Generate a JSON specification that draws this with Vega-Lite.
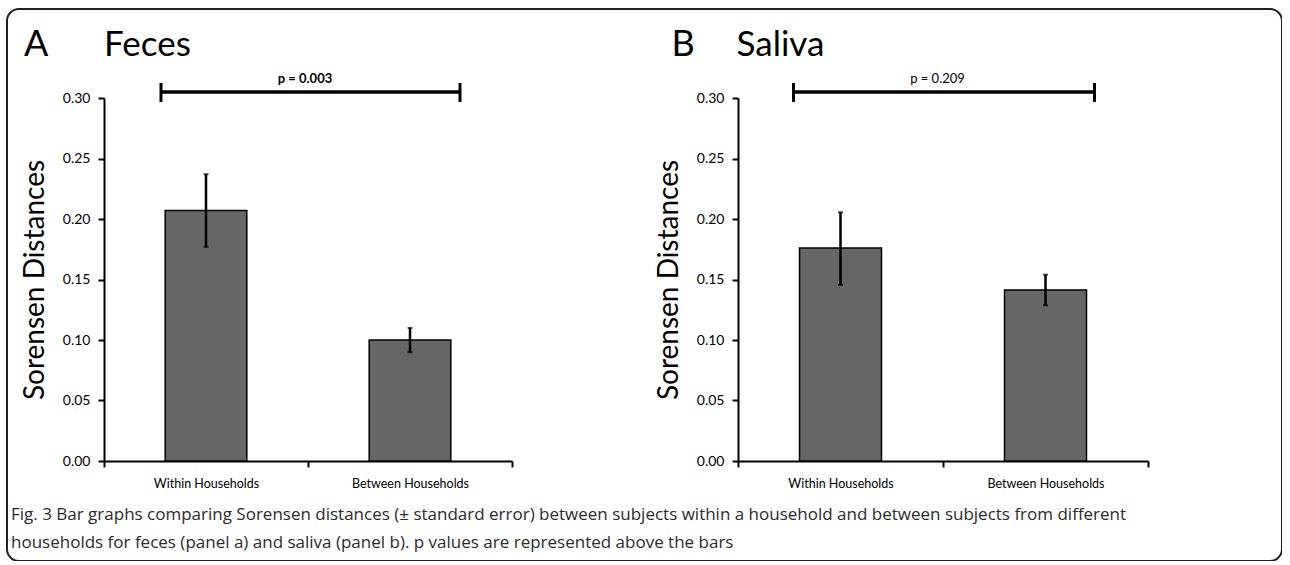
{
  "$schema": "https://vega.github.io/schema/vega-lite/v6.json",
  "background": "white",
  "padding": {"left": 7, "top": 9, "right": 0, "bottom": 0},
  "width": 1275,
  "height": 552,
  "config": {"font": "Lato"},
  "view": {"stroke": "#231f20", "strokeWidth": 2, "cornerRadius": 12, "fill": null},
  "title": {
    "text": [
      "Fig. 3 Bar graphs comparing Sorensen distances (± standard error) between subjects within a household and between subjects from different",
      "households for feces (panel a) and saliva (panel b). p values are represented above the bars"
    ],
    "orient": "bottom",
    "anchor": "start",
    "frame": "group",
    "offset": -54,
    "dx": 4,
    "font": "Open Sans",
    "fontSize": 17,
    "fontWeight": "normal",
    "color": "#2b2b2b",
    "lineHeight": 28
  },
  "datasets": {
    "feces": [
      {"group": "Within Households", "mean": 0.207, "lo": 0.177, "hi": 0.237},
      {"group": "Between Households", "mean": 0.100, "lo": 0.090, "hi": 0.110}
    ],
    "saliva": [
      {"group": "Within Households", "mean": 0.176, "lo": 0.1455, "hi": 0.2055},
      {"group": "Between Households", "mean": 0.1413, "lo": 0.1287, "hi": 0.154}
    ],
    "feces_p": [
      {"from": "Within Households", "to": "Between Households", "y": 0.305, "cap_lo": 0.2967, "cap_hi": 0.3124, "label": "p = 0.003", "letter": "A", "name": "Feces"}
    ],
    "saliva_p": [
      {"from": "Within Households", "to": "Between Households", "y": 0.305, "cap_lo": 0.2967, "cap_hi": 0.3124, "label": "p = 0.209", "letter": "B", "name": "Saliva"}
    ]
  },
  "resolve": {"scale": {"x": "independent", "y": "independent"}, "axis": {"x": "independent", "y": "independent"}},
  "layer": [
    {
      "layer": [
        {
          "data": {"name": "feces"},
          "mark": {"type": "bar", "width": {"band": 0.4}, "fill": "#666666", "stroke": "black", "strokeWidth": 1.5},
          "encoding": {
            "x": {"field": "group", "type": "nominal", "title": null,
              "scale": {"domain": ["Within Households", "Between Households"], "paddingInner": 0, "paddingOuter": 0, "range": [97, 505]},
              "axis": {"orient": "bottom", "offset": -100, "labelAngle": 0, "tickBand": "extent", "domainColor": "black", "domainWidth": 2, "tickColor": "black", "tickWidth": 2, "tickSize": 6, "labelFontSize": 12.5, "labelColor": "black", "labelPadding": 10, "labelFont": "Lato"}},
            "y": {"field": "mean", "type": "quantitative", "title": "Sorensen Distances",
              "scale": {"domain": [0, 0.3], "range": [452, 89]},
              "axis": {"orient": "left", "offset": -97, "values": [0, 0.05, 0.1, 0.15, 0.2, 0.25, 0.3], "format": ".2f", "grid": false, "domainColor": "black", "domainWidth": 2, "tickColor": "black", "tickWidth": 2, "tickSize": 6, "labelFontSize": 14, "labelColor": "black", "labelPadding": 8, "labelFont": "Lato", "titleFont": "Lato", "titleFontSize": 28, "titleFontWeight": "normal", "titleColor": "black", "titlePadding": 13}}
          }
        },
        {
          "data": {"name": "feces"},
          "mark": {"type": "errorbar", "ticks": {"size": 5, "thickness": 2, "color": "black"}, "rule": {"strokeWidth": 2.5, "color": "black"}},
          "encoding": {
            "x": {"field": "group", "type": "nominal", "title": null},
            "y": {"field": "lo", "type": "quantitative", "title": "Sorensen Distances"},
            "y2": {"field": "hi"}
          }
        },
        {
          "data": {"name": "feces_p"},
          "mark": {"type": "rule", "strokeWidth": 3.5, "color": "black", "xOffset": -45, "x2Offset": 50},
          "encoding": {
            "x": {"field": "from", "type": "nominal", "title": null},
            "x2": {"field": "to"},
            "y": {"field": "y", "type": "quantitative", "title": "Sorensen Distances"}
          }
        },
        {
          "data": {"name": "feces_p"},
          "mark": {"type": "rule", "strokeWidth": 3, "color": "black", "xOffset": -45},
          "encoding": {
            "x": {"field": "from", "type": "nominal", "title": null},
            "y": {"field": "cap_lo", "type": "quantitative", "title": "Sorensen Distances"},
            "y2": {"field": "cap_hi"}
          }
        },
        {
          "data": {"name": "feces_p"},
          "mark": {"type": "rule", "strokeWidth": 3, "color": "black", "xOffset": 50},
          "encoding": {
            "x": {"field": "to", "type": "nominal", "title": null},
            "y": {"field": "cap_lo", "type": "quantitative", "title": "Sorensen Distances"},
            "y2": {"field": "cap_hi"}
          }
        },
        {
          "data": {"name": "feces_p"},
          "mark": {"type": "text", "fontWeight": "bold", "fontSize": 13, "font": "Lato", "color": "black", "xOffset": 99, "dy": -13},
          "encoding": {
            "x": {"field": "from", "type": "nominal", "title": null},
            "y": {"field": "y", "type": "quantitative", "title": "Sorensen Distances"},
            "text": {"field": "label"}
          }
        },
        {
          "data": {"name": "feces_p"},
          "mark": {"type": "text", "fontSize": 36, "font": "Lato", "color": "black", "align": "left", "baseline": "alphabetic", "xOffset": -182, "dy": -42},
          "encoding": {
            "x": {"field": "from", "type": "nominal", "title": null},
            "y": {"datum": 0.3, "type": "quantitative", "title": "Sorensen Distances"},
            "text": {"field": "letter"}
          }
        },
        {
          "data": {"name": "feces_p"},
          "mark": {"type": "text", "fontSize": 35, "font": "Lato", "color": "black", "align": "left", "baseline": "alphabetic", "xOffset": -102, "dy": -42},
          "encoding": {
            "x": {"field": "from", "type": "nominal", "title": null},
            "y": {"datum": 0.3, "type": "quantitative", "title": "Sorensen Distances"},
            "text": {"field": "name"}
          }
        }
      ]
    },
    {
      "layer": [
        {
          "data": {"name": "saliva"},
          "mark": {"type": "bar", "width": {"band": 0.4}, "fill": "#666666", "stroke": "black", "strokeWidth": 1.5},
          "encoding": {
            "x": {"field": "group", "type": "nominal", "title": null,
              "scale": {"domain": ["Within Households", "Between Households"], "paddingInner": 0, "paddingOuter": 0, "range": [731, 1141]},
              "axis": {"orient": "bottom", "offset": -100, "labelAngle": 0, "tickBand": "extent", "domainColor": "black", "domainWidth": 2, "tickColor": "black", "tickWidth": 2, "tickSize": 6, "labelFontSize": 12.5, "labelColor": "black", "labelPadding": 10, "labelFont": "Lato"}},
            "y": {"field": "mean", "type": "quantitative", "title": "Sorensen Distances",
              "scale": {"domain": [0, 0.3], "range": [452, 89]},
              "axis": {"orient": "left", "offset": -731, "values": [0, 0.05, 0.1, 0.15, 0.2, 0.25, 0.3], "format": ".2f", "grid": false, "domainColor": "black", "domainWidth": 2, "tickColor": "black", "tickWidth": 2, "tickSize": 6, "labelFontSize": 14, "labelColor": "black", "labelPadding": 8, "labelFont": "Lato", "titleFont": "Lato", "titleFontSize": 28, "titleFontWeight": "normal", "titleColor": "black", "titlePadding": 13}}
          }
        },
        {
          "data": {"name": "saliva"},
          "mark": {"type": "errorbar", "ticks": {"size": 5, "thickness": 2, "color": "black"}, "rule": {"strokeWidth": 2.5, "color": "black"}},
          "encoding": {
            "x": {"field": "group", "type": "nominal", "title": null},
            "y": {"field": "lo", "type": "quantitative", "title": "Sorensen Distances"},
            "y2": {"field": "hi"}
          }
        },
        {
          "data": {"name": "saliva_p"},
          "mark": {"type": "rule", "strokeWidth": 3.5, "color": "black", "xOffset": -47, "x2Offset": 49},
          "encoding": {
            "x": {"field": "from", "type": "nominal", "title": null},
            "x2": {"field": "to"},
            "y": {"field": "y", "type": "quantitative", "title": "Sorensen Distances"}
          }
        },
        {
          "data": {"name": "saliva_p"},
          "mark": {"type": "rule", "strokeWidth": 3, "color": "black", "xOffset": -47},
          "encoding": {
            "x": {"field": "from", "type": "nominal", "title": null},
            "y": {"field": "cap_lo", "type": "quantitative", "title": "Sorensen Distances"},
            "y2": {"field": "cap_hi"}
          }
        },
        {
          "data": {"name": "saliva_p"},
          "mark": {"type": "rule", "strokeWidth": 3, "color": "black", "xOffset": 49},
          "encoding": {
            "x": {"field": "to", "type": "nominal", "title": null},
            "y": {"field": "cap_lo", "type": "quantitative", "title": "Sorensen Distances"},
            "y2": {"field": "cap_hi"}
          }
        },
        {
          "data": {"name": "saliva_p"},
          "mark": {"type": "text", "fontWeight": "normal", "fontSize": 13, "font": "Lato", "color": "black", "xOffset": 97, "dy": -13},
          "encoding": {
            "x": {"field": "from", "type": "nominal", "title": null},
            "y": {"field": "y", "type": "quantitative", "title": "Sorensen Distances"},
            "text": {"field": "label"}
          }
        },
        {
          "data": {"name": "saliva_p"},
          "mark": {"type": "text", "fontSize": 36, "font": "Lato", "color": "black", "align": "left", "baseline": "alphabetic", "xOffset": -169, "dy": -42},
          "encoding": {
            "x": {"field": "from", "type": "nominal", "title": null},
            "y": {"datum": 0.3, "type": "quantitative", "title": "Sorensen Distances"},
            "text": {"field": "letter"}
          }
        },
        {
          "data": {"name": "saliva_p"},
          "mark": {"type": "text", "fontSize": 35, "font": "Lato", "color": "black", "align": "left", "baseline": "alphabetic", "xOffset": -104, "dy": -42},
          "encoding": {
            "x": {"field": "from", "type": "nominal", "title": null},
            "y": {"datum": 0.3, "type": "quantitative", "title": "Sorensen Distances"},
            "text": {"field": "name"}
          }
        }
      ]
    }
  ]
}
